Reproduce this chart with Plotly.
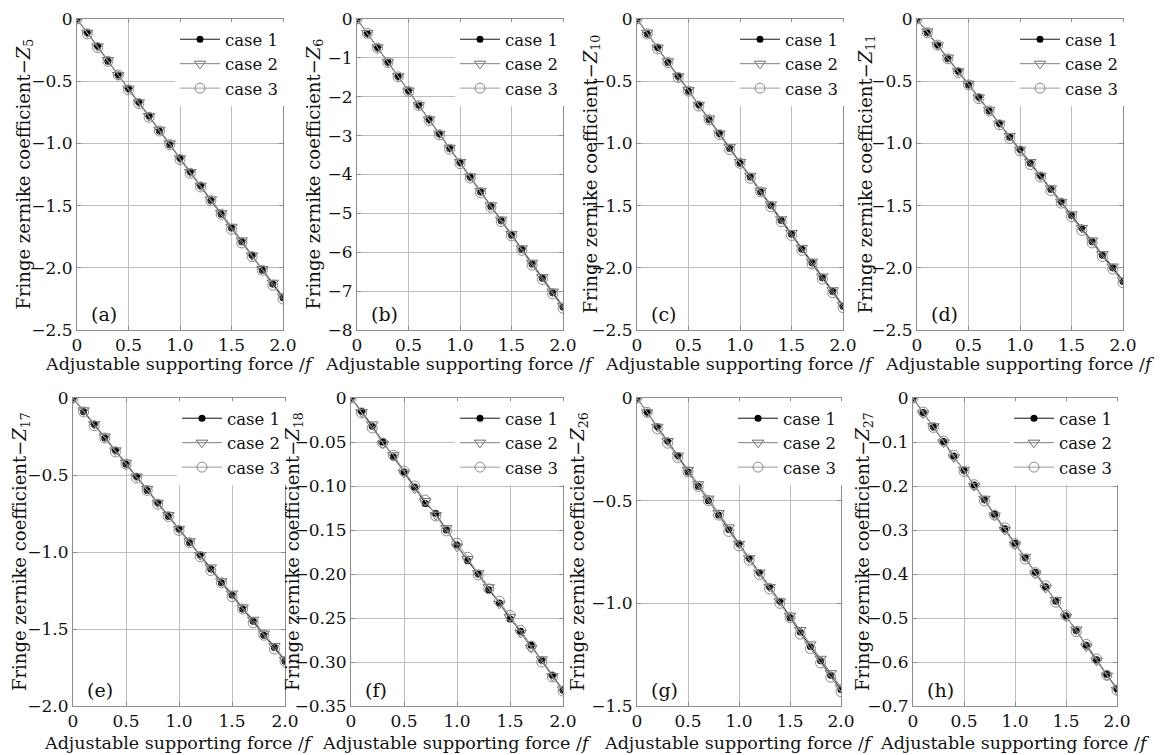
import plotly.graph_objects as go

W, H = 1170, 755
FONT = "DejaVu Serif"

force = [0, 0.1, 0.2, 0.3, 0.4, 0.5, 0.6, 0.7, 0.8, 0.9, 1.0,
         1.1, 1.2, 1.3, 1.4, 1.5, 1.6, 1.7, 1.8, 1.9, 2.0]
x_tickvals = [0, 0.5, 1.0, 1.5, 2.0]
x_ticktext = ["0", "0.5", "1.0", "1.5", "2.0"]
case_names = ["case 1", "case 2", "case 3"]
panel_labels = ["(a)", "(b)", "(c)", "(d)", "(e)", "(f)", "(g)", "(h)"]
zernike_index = ["5", "6", "10", "11", "17", "18", "26", "27"]

z5_case1 = [0, -0.11, -0.22, -0.34, -0.45, -0.56, -0.67, -0.78, -0.90, -1.01, -1.12, -1.23, -1.34, -1.46, -1.57, -1.68, -1.79, -1.90, -2.02, -2.13, -2.24]
z5_case2 = [0, -0.11, -0.22, -0.33, -0.45, -0.56, -0.67, -0.78, -0.89, -1.00, -1.12, -1.23, -1.34, -1.45, -1.56, -1.67, -1.78, -1.90, -2.01, -2.12, -2.23]
z5_case3 = [0, -0.12, -0.23, -0.34, -0.45, -0.57, -0.68, -0.79, -0.90, -1.01, -1.13, -1.24, -1.35, -1.46, -1.57, -1.69, -1.80, -1.91, -2.02, -2.14, -2.25]

z6_case1 = [0, -0.37, -0.74, -1.11, -1.48, -1.85, -2.22, -2.59, -2.96, -3.33, -3.70, -4.07, -4.45, -4.82, -5.19, -5.56, -5.93, -6.30, -6.67, -7.04, -7.41]
z6_case2 = [0, -0.36, -0.73, -1.10, -1.47, -1.84, -2.21, -2.58, -2.95, -3.31, -3.68, -4.05, -4.42, -4.79, -5.16, -5.53, -5.90, -6.27, -6.64, -7.01, -7.38]
z6_case3 = [0, -0.37, -0.75, -1.12, -1.49, -1.86, -2.23, -2.61, -2.98, -3.35, -3.72, -4.09, -4.47, -4.84, -5.21, -5.58, -5.95, -6.33, -6.70, -7.07, -7.44]

z10_case1 = [0, -0.12, -0.23, -0.35, -0.46, -0.58, -0.69, -0.81, -0.92, -1.04, -1.16, -1.27, -1.39, -1.50, -1.62, -1.73, -1.85, -1.96, -2.08, -2.19, -2.31]
z10_case2 = [0, -0.11, -0.23, -0.34, -0.46, -0.57, -0.69, -0.80, -0.92, -1.03, -1.15, -1.26, -1.38, -1.49, -1.61, -1.72, -1.84, -1.95, -2.07, -2.18, -2.30]
z10_case3 = [0, -0.12, -0.24, -0.35, -0.47, -0.58, -0.70, -0.81, -0.93, -1.05, -1.16, -1.28, -1.39, -1.51, -1.63, -1.74, -1.86, -1.97, -2.09, -2.20, -2.32]

z11_case1 = [0, -0.11, -0.21, -0.32, -0.42, -0.53, -0.63, -0.74, -0.84, -0.95, -1.05, -1.16, -1.26, -1.37, -1.47, -1.58, -1.68, -1.79, -1.90, -2.00, -2.11]
z11_case2 = [0, -0.10, -0.21, -0.31, -0.42, -0.52, -0.63, -0.73, -0.84, -0.94, -1.05, -1.15, -1.26, -1.36, -1.47, -1.57, -1.68, -1.78, -1.89, -1.99, -2.10]
z11_case3 = [0, -0.11, -0.21, -0.32, -0.43, -0.53, -0.64, -0.74, -0.85, -0.96, -1.06, -1.17, -1.27, -1.38, -1.48, -1.59, -1.70, -1.80, -1.91, -2.01, -2.12]

z17_case1 = [0, -0.09, -0.17, -0.26, -0.34, -0.43, -0.51, -0.60, -0.68, -0.77, -0.85, -0.94, -1.02, -1.11, -1.20, -1.28, -1.37, -1.45, -1.54, -1.62, -1.71]
z17_case2 = [0, -0.08, -0.17, -0.25, -0.34, -0.42, -0.51, -0.59, -0.68, -0.76, -0.85, -0.93, -1.02, -1.10, -1.19, -1.27, -1.36, -1.44, -1.53, -1.61, -1.70]
z17_case3 = [0, -0.09, -0.18, -0.26, -0.35, -0.43, -0.52, -0.60, -0.69, -0.77, -0.86, -0.94, -1.03, -1.12, -1.20, -1.29, -1.37, -1.46, -1.54, -1.63, -1.71]

z18_case1 = [0, -0.015, -0.032, -0.050, -0.067, -0.084, -0.101, -0.120, -0.131, -0.150, -0.167, -0.185, -0.200, -0.218, -0.233, -0.251, -0.265, -0.281, -0.298, -0.315, -0.332]
z18_case2 = [0, -0.016, -0.030, -0.052, -0.065, -0.085, -0.103, -0.117, -0.133, -0.148, -0.169, -0.183, -0.199, -0.215, -0.234, -0.249, -0.267, -0.284, -0.297, -0.316, -0.331]
z18_case3 = [0, -0.017, -0.034, -0.051, -0.065, -0.083, -0.100, -0.116, -0.134, -0.151, -0.165, -0.181, -0.201, -0.217, -0.231, -0.247, -0.264, -0.282, -0.300, -0.317, -0.333]

z26_case1 = [0, -0.07, -0.14, -0.21, -0.28, -0.36, -0.43, -0.50, -0.57, -0.64, -0.71, -0.78, -0.85, -0.92, -0.99, -1.07, -1.14, -1.21, -1.28, -1.35, -1.42]
z26_case2 = [0, -0.07, -0.14, -0.21, -0.28, -0.35, -0.42, -0.49, -0.56, -0.63, -0.71, -0.78, -0.85, -0.92, -0.99, -1.06, -1.13, -1.20, -1.27, -1.34, -1.41]
z26_case3 = [0, -0.07, -0.15, -0.22, -0.29, -0.36, -0.43, -0.50, -0.57, -0.65, -0.72, -0.79, -0.86, -0.93, -1.00, -1.07, -1.15, -1.22, -1.29, -1.36, -1.43]

z27_case1 = [0, -0.033, -0.066, -0.099, -0.132, -0.165, -0.198, -0.231, -0.264, -0.297, -0.330, -0.363, -0.396, -0.429, -0.462, -0.495, -0.529, -0.562, -0.595, -0.628, -0.661]
z27_case2 = [0, -0.035, -0.064, -0.101, -0.135, -0.163, -0.200, -0.229, -0.267, -0.300, -0.333, -0.361, -0.399, -0.432, -0.459, -0.497, -0.526, -0.565, -0.597, -0.631, -0.663]
z27_case3 = [0, -0.032, -0.067, -0.098, -0.130, -0.167, -0.197, -0.234, -0.266, -0.295, -0.331, -0.366, -0.397, -0.427, -0.464, -0.494, -0.531, -0.560, -0.593, -0.630, -0.664]

yticks_25 = [0, -0.5, -1.0, -1.5, -2.0, -2.5]
ytext_25 = ["0", "−0.5", "−1.0", "−1.5", "−2.0", "−2.5"]
yticks_8 = [0, -1, -2, -3, -4, -5, -6, -7, -8]
ytext_8 = ["0", "−1", "−2", "−3", "−4", "−5", "−6", "−7", "−8"]
yticks_20 = [0, -0.5, -1.0, -1.5, -2.0]
ytext_20 = ["0", "−0.5", "−1.0", "−1.5", "−2.0"]
yticks_035 = [0, -0.05, -0.10, -0.15, -0.20, -0.25, -0.30, -0.35]
ytext_035 = ["0", "−0.05", "−0.10", "−0.15", "−0.20", "−0.25", "−0.30", "−0.35"]
yticks_15 = [0, -0.5, -1.0, -1.5]
ytext_15 = ["0", "−0.5", "−1.0", "−1.5"]
yticks_07 = [0, -0.1, -0.2, -0.3, -0.4, -0.5, -0.6, -0.7]
ytext_07 = ["0", "−0.1", "−0.2", "−0.3", "−0.4", "−0.5", "−0.6", "−0.7"]

series = [
    (z5_case1, z5_case2, z5_case3),
    (z6_case1, z6_case2, z6_case3),
    (z10_case1, z10_case2, z10_case3),
    (z11_case1, z11_case2, z11_case3),
    (z17_case1, z17_case2, z17_case3),
    (z18_case1, z18_case2, z18_case3),
    (z26_case1, z26_case2, z26_case3),
    (z27_case1, z27_case2, z27_case3),
]
yaxes_spec = [
    (yticks_25, ytext_25), (yticks_8, ytext_8), (yticks_25, ytext_25), (yticks_25, ytext_25),
    (yticks_20, ytext_20), (yticks_035, ytext_035), (yticks_15, ytext_15), (yticks_07, ytext_07),
]

# plot-area boxes in pixels (left, right, top, bottom) and y-title x centre
boxes = [
    (77, 283, 19, 330), (357, 563, 19, 330), (637, 843, 19, 330), (917, 1123, 19, 330),
    (73, 285, 398, 706), (351, 563, 398, 706), (637, 841, 398, 706), (913, 1117, 398, 706),
]
ytitle_x = [24, 314, 591, 866, 21, 294, 579, 864]
xtitle_dy = [34, 34, 34, 34, 37, 37, 37, 37]

def px(x):
    return x / W

def py(y):
    return 1 - y / H

styles = [
    dict(line=dict(color="#111111", width=1),
         marker=dict(symbol="circle", size=7, color="#000000")),
    dict(line=dict(color="#808080", width=1),
         marker=dict(symbol="triangle-down-open", size=10, color="#707070", line=dict(width=1))),
    dict(line=dict(color="#9a9a9a", width=1),
         marker=dict(symbol="circle-open", size=10, color="#8a8a8a", line=dict(width=1))),
]

fig = go.Figure()
annotations = []
layout_extra = {}
tickfont = dict(family=FONT, size=17, color="#111111")

for i in range(8):
    l, r, t, b = boxes[i]
    sfx = "" if i == 0 else str(i + 1)
    xa, ya = "x" + sfx, "y" + sfx
    lg = "legend" + sfx
    for k in range(3):
        fig.add_trace(go.Scatter(
            x=force, y=series[i][k], mode="lines+markers", name=case_names[k],
            xaxis=xa, yaxis=ya, legend=lg, showlegend=True, **styles[k]))
    tv, tt = yaxes_spec[i]
    common = dict(tickfont=tickfont, showgrid=True, gridcolor="#bdbdbd", gridwidth=1,
                  zeroline=False, showline=True, linecolor="#8c8c8c", linewidth=1,
                  mirror="ticks", ticks="inside", ticklen=4, tickcolor="#8c8c8c",
                  automargin=False)
    layout_extra["xaxis" + sfx] = dict(
        domain=[px(l), px(r)], anchor=ya, range=[0, 2.0],
        tickvals=x_tickvals, ticktext=x_ticktext, **common)
    layout_extra["yaxis" + sfx] = dict(
        domain=[py(b), py(t)], anchor=xa, range=[min(tv), 0],
        tickvals=tv, ticktext=tt, **common)
    layout_extra[lg] = dict(
        x=px(r + 1), y=py(t + 3), xanchor="right", yanchor="top",
        xref="paper", yref="paper", bgcolor="rgba(255,255,255,1)",
        borderwidth=0, font=dict(family=FONT, size=16.5, color="#111111"),
        tracegroupgap=0, itemwidth=40, traceorder="normal")
    annotations.append(dict(
        x=px(ytitle_x[i]), y=py((t + b) / 2), xref="paper", yref="paper",
        text="Fringe zernike coefficient−<i>Z</i><sub>" + zernike_index[i] + "</sub>",
        textangle=-90, showarrow=False, xanchor="center", yanchor="middle", borderpad=0,
        font=dict(family=FONT, size=18, color="#111111")))
    annotations.append(dict(
        x=px((l + r) / 2), y=py(b + xtitle_dy[i]), xref="paper", yref="paper",
        text="Adjustable supporting force /<i>f</i>",
        showarrow=False, xanchor="center", yanchor="middle", borderpad=0,
        font=dict(family=FONT, size=17.5, color="#111111")))
    annotations.append(dict(
        x=px(l + 12), y=py(b - 16), xref="paper", yref="paper",
        text=panel_labels[i], showarrow=False, xanchor="left", yanchor="middle",
        font=dict(family=FONT, size=19, color="#111111")))

fig.update_layout(
    width=W, height=H, margin=dict(l=0, r=0, t=0, b=0, autoexpand=False),
    paper_bgcolor="white", plot_bgcolor="white",
    annotations=annotations, **layout_extra)

fig.write_html("out.html", config={"displayModeBar": False},
               post_script="document.body.style.margin='0px';document.body.style.overflow='hidden';")
